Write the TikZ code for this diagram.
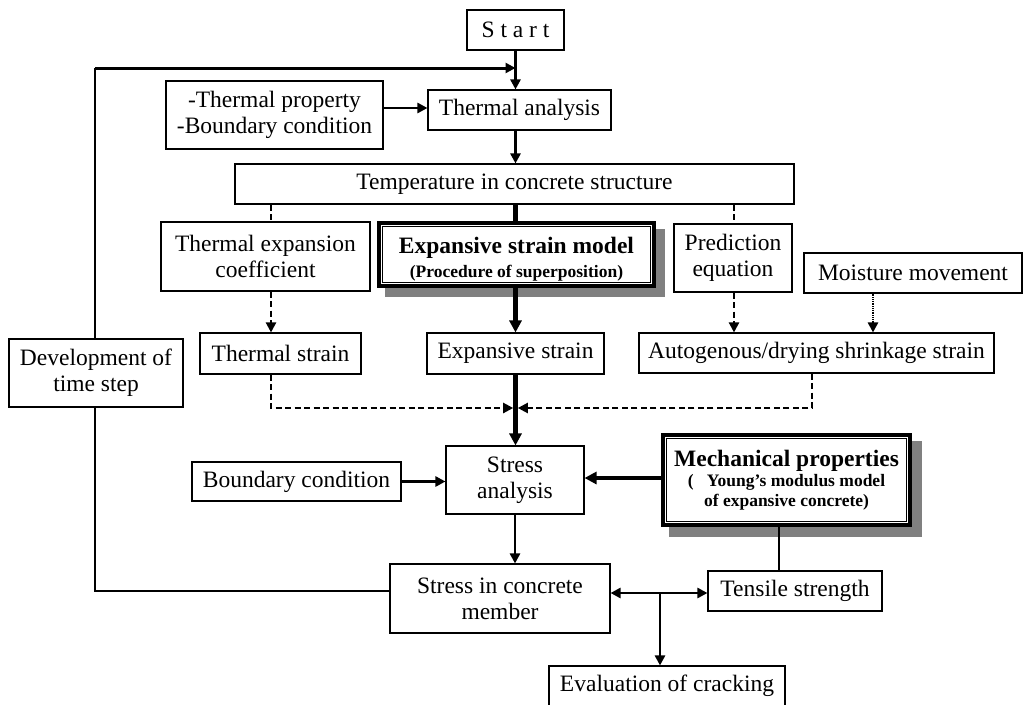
\documentclass[tikz,border=0pt]{standalone}
\usepackage{fontspec}
\setmainfont{Liberation Serif}
\usetikzlibrary{arrows.meta,calc,backgrounds}
\definecolor{shadowgray}{RGB}{128,128,128}
\begin{document}
\begin{tikzpicture}[x=1pt,y=-1pt,
  box/.style={draw, line width=1.1pt, fill=white, align=center, inner sep=0pt,
    font=\fontsize{23.5}{26}\selectfont},
  dbox/.style={draw, line width=3.6pt, fill=white, inner sep=0pt, outer sep=0pt},
  dinner/.style={draw, line width=1.3pt},
  btxt/.style={align=center, inner sep=0pt, font=\fontsize{17.5}{20}\selectfont\bfseries},
  sz/.style 2 args={minimum width=#1pt, minimum height=#2pt},
  tipm/.style={-{Triangle[length=10pt,width=10pt]}},
  tipd/.style={{Triangle[length=10pt,width=10pt]}-{Triangle[length=10pt,width=10pt]}},
  tipk/.style={-{Triangle[length=12pt,width=12pt]}},
  med/.style={line width=2.7pt},
  thk/.style={line width=4.6pt},
  dsh/.style={line width=2.2pt, dash pattern=on 6pt off 3.5pt},
  dott/.style={line width=2.8pt, dash pattern=on 1pt off 0.8pt},
  thin/.style={line width=1.1pt},
  shadow/.style={fill=shadowgray}
]
\useasboundingbox (0,0) rectangle (1027,704);

% nodes
\node[box, sz={97}{40}] (start) at (515.5,30) {S t a r t};
\node[box, sz={217}{68}] (thprop) at (274.5,115) {-Thermal property\\-Boundary condition};
\node[box, sz={183}{40}] (thana) at (519.5,110) {Thermal analysis};
\node[box, sz={559}{40}] (temp) at (514.5,184) {Temperature in concrete structure};
\node[box, sz={209}{69}] (thexp) at (265.5,256.5) {Thermal expansion\\coefficient};
\node[dbox, sz={275}{63}] (model) at (516.5,254.5) {};
\draw[dinner] ([shift={(3.8,3.8)}]model.north west) rectangle ([shift={(-3.8,-3.8)}]model.south east);
\node[btxt] (modeltxt) at ([yshift=-5pt]model.center)
  {{\fontsize{23.5}{26}\selectfont Expansive strain model}\\[4pt](Procedure of superposition)};
\node[box, sz={118}{68}] (pred) at (733,258) {Prediction\\equation};
\node[box, sz={218}{40}] (moist) at (913,273) {Moisture movement};
\node[box, sz={161}{41}] (thstr) at (280.5,353.5) {Thermal strain};
\node[box, sz={177}{41}] (expstr) at (515.5,353.5) {Expansive strain};
\node[box, sz={355}{40}] (auto) at (816.5,353) {Autogenous/drying shrinkage strain};
\node[box, sz={174}{68}] (devt) at (96,373) {Development of\\time step};
\node[box, sz={209}{39}] (bc) at (296.5,481.5) {Boundary condition};
\node[box, sz={138}{68}] (stress) at (515,480) {Stress\\analysis};
\node[dbox, sz={247}{90}] (mech) at (786.5,480) {};
\draw[dinner] ([shift={(3.8,3.8)}]mech.north west) rectangle ([shift={(-3.8,-3.8)}]mech.south east);
\node[btxt] (mechtxt) at (mech.center)
  {{\fontsize{23.5}{26}\selectfont Mechanical properties}\\(\ \ \ Young’s modulus model\\of expansive concrete)};
\node[box, sz={220}{69}] (member) at (500,598.5) {Stress in concrete\\member};
\node[box, sz={174}{40}] (tensile) at (795,591) {Tensile strength};
\node[box, sz={236}{40}] (eval) at (667,686) {Evaluation of cracking};

% helper coordinates
\coordinate (loopL) at (95,68);
\coordinate (mrow) at (0,408);
\coordinate (br) at (660,593);
\coordinate (dx1) at (271,0);
\coordinate (dx2) at (734,0);
\coordinate (dx3) at (812,0);
\coordinate (dx4) at (873,0);
\coordinate (mw) at ([yshift=7.5pt]member.west);

\begin{scope}[on background layer]
  % shadows
  \fill[shadow] ([shift={(6,6)}]model.north west) rectangle ([shift={(11,11)}]model.south east);
  \fill[shadow] ([shift={(6,6)}]mech.north west) rectangle ([shift={(12,12)}]mech.south east);
  % loop
  \draw[thin] (mw) -- (mw -| loopL) -- (loopL);
  \draw[line width=3pt, tipm] (loopL) -- (loopL -| start.south);
  % main flow
  \draw[med, tipm] (start.south) -- (start.south |- thana.north);
  \draw[med, tipm] (start.south |- thana.south) -- (start.south |- temp.north);
  \draw[med, tipm] ([yshift=7pt]thprop.east) -- ([yshift=7pt]thprop.east -| thana.west);
  \draw[thk] (start.south |- temp.south) -- (start.south |- model.north);
  \draw[thk, tipk] (start.south |- model.south) -- (start.south |- expstr.north);
  \draw[thk, tipk] (start.south |- expstr.south) -- (start.south |- stress.north);
  % dashed branches
  \draw[dsh] (dx1 |- temp.south) -- (dx1 |- thexp.north);
  \draw[dsh, tipm] (dx1 |- thexp.south) -- (dx1 |- thstr.north);
  \draw[dsh] (dx2 |- temp.south) -- (dx2 |- pred.north);
  \draw[dsh, tipm] (dx2 |- pred.south) -- (dx2 |- auto.north);
  \draw[dott, tipm] (dx4 |- moist.south) -- (dx4 |- auto.north);
  \draw[dsh, tipm, shorten >=2.3pt] (dx1 |- thstr.south) -- (dx1 |- mrow) -- (start.south |- mrow);
  \draw[dsh, tipm, shorten >=2.3pt] (dx3 |- auto.south) -- (dx3 |- mrow) -- (start.south |- mrow);
  % stress part
  \draw[med, tipm] (bc.east) -- (bc.east -| stress.west);
  \draw[thk, tipk] ([yshift=2pt]mech.west) -- ([yshift=2pt]mech.west -| stress.east);
  \draw[med, tipm] (stress.south) -- (stress.south |- member.north);
  \draw[thin] ([xshift=-7.5pt]mech.south) -- ([xshift=-7.5pt]mech.south |- tensile.north);
  \draw[med, tipd] (br -| member.east) -- (br -| tensile.west);
  \draw[med, tipm] (br) -- (br |- eval.north);
\end{scope}
\end{tikzpicture}
\end{document}
